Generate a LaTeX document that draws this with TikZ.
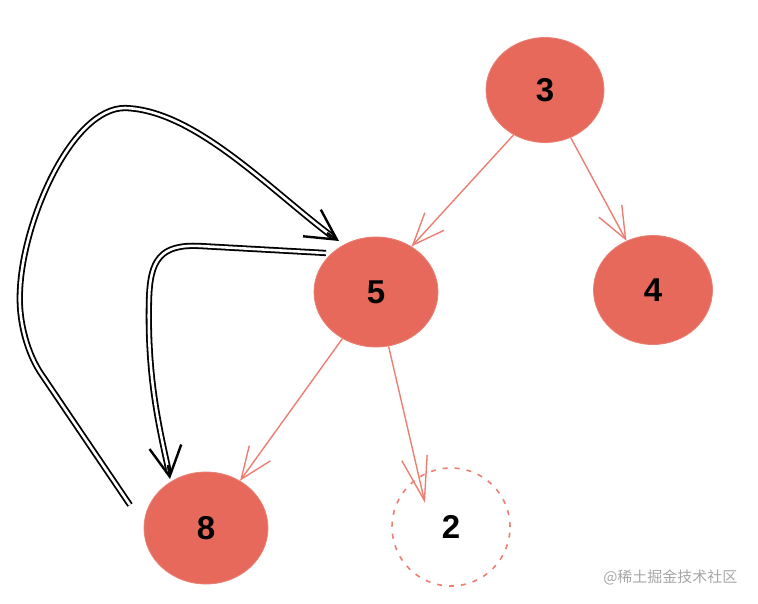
\documentclass[tikz,border=0pt]{standalone}
\usepackage{fontspec}
\setmainfont{Liberation Sans}
\newfontfamily\cjk{Noto Sans CJK SC}
\usetikzlibrary{arrows.meta,shapes.geometric,calc}
\definecolor{nodered}{HTML}{E6695B}
\definecolor{linered}{HTML}{EC7E72}
\begin{document}
\begin{tikzpicture}[x=1pt,y=-1pt,
  treenode/.style={ellipse,fill=nodered,draw=nodered!85!white,line width=0.8pt,inner sep=0pt,font=\fontsize{33}{33}\selectfont\bfseries},
  ghost/.style={ellipse,draw=linered,dashed,dash pattern=on 5pt off 7pt,line width=1.6pt,inner sep=0pt,font=\fontsize{33}{33}\selectfont\bfseries},
  redarr/.style={draw=linered,line width=1.4pt,-{Straight Barb[length=32pt,width=26pt,line width=1.4pt]}},
  dbl/.style={draw=black,double=white,double distance=2.6pt,line width=1.8pt},
  barb/.style={draw=black,line width=2.4pt,-{Straight Barb[length=30pt,width=32pt,line width=2.4pt]}}
]
\useasboundingbox (0,0) rectangle (758,603);
\node[treenode,minimum width=118pt,minimum height=105pt] (n3) at (545,90) {3};
\node[treenode,minimum width=124pt,minimum height=110pt] (n5) at (376,292) {5};
\node[treenode,minimum width=119pt,minimum height=109pt] (n4) at (653,290) {4};
\node[treenode,minimum width=124pt,minimum height=112pt] (n8) at (206,528) {8};
\node[ghost,minimum width=118pt,minimum height=118pt] (n2) at (451,527) {2};
\coordinate (n2in) at (425,503);
% red tree edges
\draw[redarr] (n3.235) -- (n5.52);
\draw[redarr] (n3) -- (n4);
\draw[redarr] (n5) -- (n8);
\draw[redarr,-{Straight Barb[length=44pt,width=26pt,line width=1.4pt]}] (n5) -- (n2in);
% black double curves
\coordinate (s1) at (130,505);
\coordinate (e1) at (339,241);
\coordinate (s2) at (326,253);
\coordinate (e2) at (170,479);
\draw[dbl] (s1) -- (42,375) .. controls (28,355) and (18,322) .. (20,290)
   .. controls (23,220) and (72,108) .. (125,108)
   .. controls (195,110) and (270,190) .. ($(e1)+(-6,-4)$);
\draw[barb] ($(e1)+(-12,-8)$) -- (e1);
\draw[dbl] (s2) -- (200,246) .. controls (160,244) and (150,260) .. (149,300)
   .. controls (147,380) and (160,430) .. ($(e2)+(-1,-6)$);
\draw[barb] ($(e2)+(-2,-14)$) -- (e2);
% watermark
\node[font=\cjk\fontsize{15}{15}\selectfont,text=black!35,anchor=east] (wm) at (741,577) {@稀土掘金技术社区};
\end{tikzpicture}
\end{document}
